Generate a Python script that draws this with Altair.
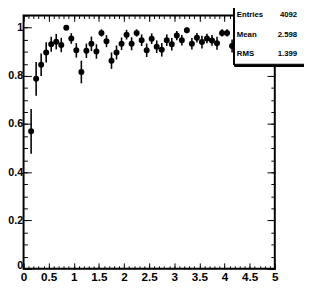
import altair as alt
import pandas as pd

# ---- data ----
bin_centers = [0.15, 0.25, 0.35, 0.45, 0.55, 0.65, 0.75, 0.85, 0.95, 1.05,
               1.15, 1.25, 1.35, 1.45, 1.55, 1.65, 1.75, 1.85, 1.95, 2.05,
               2.15, 2.25, 2.35, 2.45, 2.55, 2.65, 2.75, 2.85, 2.95, 3.05,
               3.15, 3.25, 3.35, 3.45, 3.55, 3.65, 3.75, 3.85, 3.95, 4.05,
               4.15]
efficiency = [0.570, 0.788, 0.846, 0.897, 0.931, 0.942, 0.928, 1.000, 0.955, 0.906,
              0.816, 0.904, 0.933, 0.901, 0.978, 0.944, 0.863, 0.897, 0.933, 0.971,
              0.933, 0.978, 0.948, 0.906, 0.954, 0.921, 0.908, 0.948, 0.931, 0.967,
              0.948, 0.989, 0.933, 0.958, 0.940, 0.955, 0.947, 0.935, 0.978, 0.978,
              0.924]
errors = [0.093, 0.070, 0.047, 0.042, 0.031, 0.032, 0.030, 0.000, 0.022, 0.030,
          0.047, 0.030, 0.030, 0.030, 0.015, 0.025, 0.034, 0.029, 0.026, 0.020,
          0.027, 0.015, 0.024, 0.028, 0.022, 0.026, 0.028, 0.024, 0.026, 0.019,
          0.022, 0.012, 0.024, 0.020, 0.026, 0.020, 0.022, 0.027, 0.015, 0.015,
          0.027]
stat_names = ["Entries", "Mean", "RMS"]
stat_values = ["4092", "2.598", "1.399"]

x_major = [i * 0.5 for i in range(11)]
x_minor = [round(i * 0.1, 2) for i in range(51)]
y_major = [round(i * 0.2, 2) for i in range(6)]
y_minor = [round(i * 0.05, 2) for i in range(22)]

df = pd.DataFrame({"x": bin_centers, "y": efficiency, "err": errors})
df["lo"] = df["y"] - df["err"]
df["hi"] = df["y"] + df["err"]

W, H = 258, 260
FONT = "Liberation Sans"
xs = alt.Scale(domain=[0, 5], nice=False, zero=False)
ys = alt.Scale(domain=[0, 1.05], nice=False, zero=False)

def axis(orient, values, size, labels=False, pad=2, fsize=12, **extra):
    kw = dict(orient=orient, values=values, tickSize=size, offset=-size,
              domain=False, grid=False, ticks=True, tickColor="black",
              tickWidth=1, labels=labels, title=None)
    if labels:
        kw.update(format="~g", labelFont=FONT, labelFontWeight="bold",
                  labelFontSize=fsize, labelColor="black", labelPadding=pad,
                  labelFlush=False, labelOverlap=False)
        kw.update(extra)
    return alt.Axis(**kw)

base = alt.Chart(df)

def axis_layer(xax, yax):
    return base.mark_point(opacity=0).encode(
        x=alt.X("x:Q", scale=xs, axis=xax),
        y=alt.Y("y:Q", scale=ys, axis=yax),
    )

ax1 = axis_layer(
    axis("bottom", x_major, 6, True, 3, 12),
    axis("left", y_major, 8, True, 1, 11,
         labelOffset={"condition": {"test": "datum.value === 0", "value": -3}, "value": 0}),
)
ax2 = axis_layer(axis("bottom", x_minor, 3), axis("left", y_minor, 4))
ax3 = axis_layer(axis("top", x_major, 6), axis("right", y_major, 8))
ax4 = axis_layer(axis("top", x_minor, 3), axis("right", y_minor, 4))

bars = base.mark_rule(color="black", strokeWidth=1.6).encode(
    x=alt.X("x:Q", scale=xs, axis=None),
    y=alt.Y("lo:Q", scale=ys, axis=None),
    y2="hi:Q",
)
points = base.mark_circle(color="black", opacity=1, size=38).encode(
    x=alt.X("x:Q", scale=xs, axis=None),
    y=alt.Y("y:Q", scale=ys, axis=None),
)

# statistics box
box_shadow = alt.Chart(df).mark_rect(fill="black").encode(
    x=alt.value(217), x2=alt.value(300), y=alt.value(-10), y2=alt.value(52))
box = alt.Chart(df).mark_rect(fill="white", stroke="black", strokeWidth=1.2).encode(
    x=alt.value(216.5), x2=alt.value(300), y=alt.value(-10), y2=alt.value(50))

texts = []
row_y = [-1, 20, 40]
for name, val, yy in zip(stat_names, stat_values, row_y):
    texts.append(alt.Chart(pd.DataFrame({"t": [name]})).mark_text(
        align="left", baseline="middle", font=FONT, fontWeight="bold",
        fontSize=8, color="black").encode(
        text="t:N", x=alt.value(219), y=alt.value(yy)))
    texts.append(alt.Chart(pd.DataFrame({"t": [val]})).mark_text(
        align="right", baseline="middle", font=FONT, fontWeight="bold",
        fontSize=8, color="black").encode(
        text="t:N", x=alt.value(281), y=alt.value(yy)))

chart = alt.layer(ax1, ax2, ax3, ax4, bars, points, box_shadow, box, *texts).resolve_axis(
    x="independent", y="independent"
).properties(
    width=W, height=H,
    autosize=alt.AutoSizeParams(type="none"),
    padding={"left": 16, "top": 4, "right": 30, "bottom": 17},
).configure_view(stroke="black", strokeWidth=2)

chart.save("out.html", embed_options={"renderer": "svg", "actions": False})
